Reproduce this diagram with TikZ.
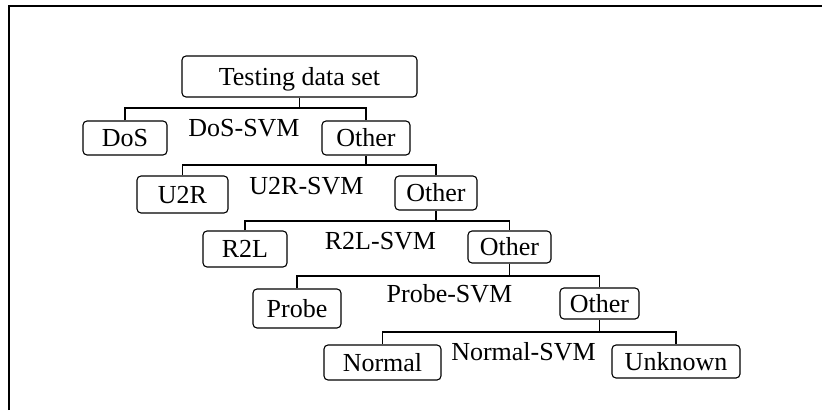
\documentclass[tikz,border=0pt]{standalone}
\usepackage{fontspec}
\setmainfont{Liberation Serif}
\begin{document}
\begin{tikzpicture}[x=1pt,y=-1pt,
  every node/.style={font=\fontsize{26}{30}\selectfont, inner sep=0pt, text height=17pt, text depth=0pt},
  box/.style={draw, rounded corners=4pt, line width=1.1pt},
  conn/.style={line width=1.1pt}]
\useasboundingbox (0,0) rectangle (822,410);
\draw[line width=1.1pt] (9,410) -- (9,6) -- (822,6);
% boxes
\node[box, minimum width=235pt, minimum height=41pt] (t) at (299.5,76.5) {Testing data set};
\node[box, minimum width=84pt, minimum height=34pt] (dos) at (125,138) {DoS};
\node[box, minimum width=88pt, minimum height=34pt] (o1) at (366,138) {Other};
\node[box, minimum width=91pt, minimum height=37pt] (u2r) at (182.5,194.5) {U2R};
\node[box, minimum width=82pt, minimum height=34pt] (o2) at (436,193) {Other};
\node[box, minimum width=84pt, minimum height=36pt] (r2l) at (245,249) {R2L};
\node[box, minimum width=83pt, minimum height=32pt] (o3) at (509.5,247) {Other};
\node[box, minimum width=88pt, minimum height=39pt] (probe) at (297,308.5) {Probe};
\node[box, minimum width=79pt, minimum height=31pt] (o4) at (599.5,303.5) {Other};
\node[box, minimum width=117pt, minimum height=35pt] (normal) at (382.5,362.5) {Normal};
\node[box, minimum width=128pt, minimum height=33pt] (unk) at (676,361.5) {Unknown};
% labels
\node (l1) at (244,127.5) {DoS-SVM};
\node (l2) at (306.5,186) {U2R-SVM};
\node (l3) at (380.5,241) {R2L-SVM};
\node (l4) at (449.5,293.5) {Probe-SVM};
\node (l5) at (523.5,351.5) {Normal-SVM};
% bar levels
\coordinate (b1) at (0,108);
\coordinate (b2) at (0,165);
\coordinate (b3) at (0,221);
\coordinate (b4) at (0,276);
\coordinate (b5) at (0,332);
% connectors
\draw[conn] (t.south) -- (t.south |- b1);
\draw[conn] (dos.north) -- (dos.north |- b1) -- (o1.north |- b1) -- (o1.north);
\draw[conn] (o1.south) -- (o1.south |- b2);
\draw[conn] (u2r.north) -- (u2r.north |- b2) -- (o2.north |- b2) -- (o2.north);
\draw[conn] (o2.south) -- (o2.south |- b3);
\draw[conn] (r2l.north) -- (r2l.north |- b3) -- (o3.north |- b3) -- (o3.north);
\draw[conn] (o3.south) -- (o3.south |- b4);
\draw[conn] (probe.north) -- (probe.north |- b4) -- (o4.north |- b4) -- (o4.north);
\draw[conn] (o4.south) -- (o4.south |- b5);
\draw[conn] (normal.north) -- (normal.north |- b5) -- (unk.north |- b5) -- (unk.north);
\end{tikzpicture}
\end{document}
